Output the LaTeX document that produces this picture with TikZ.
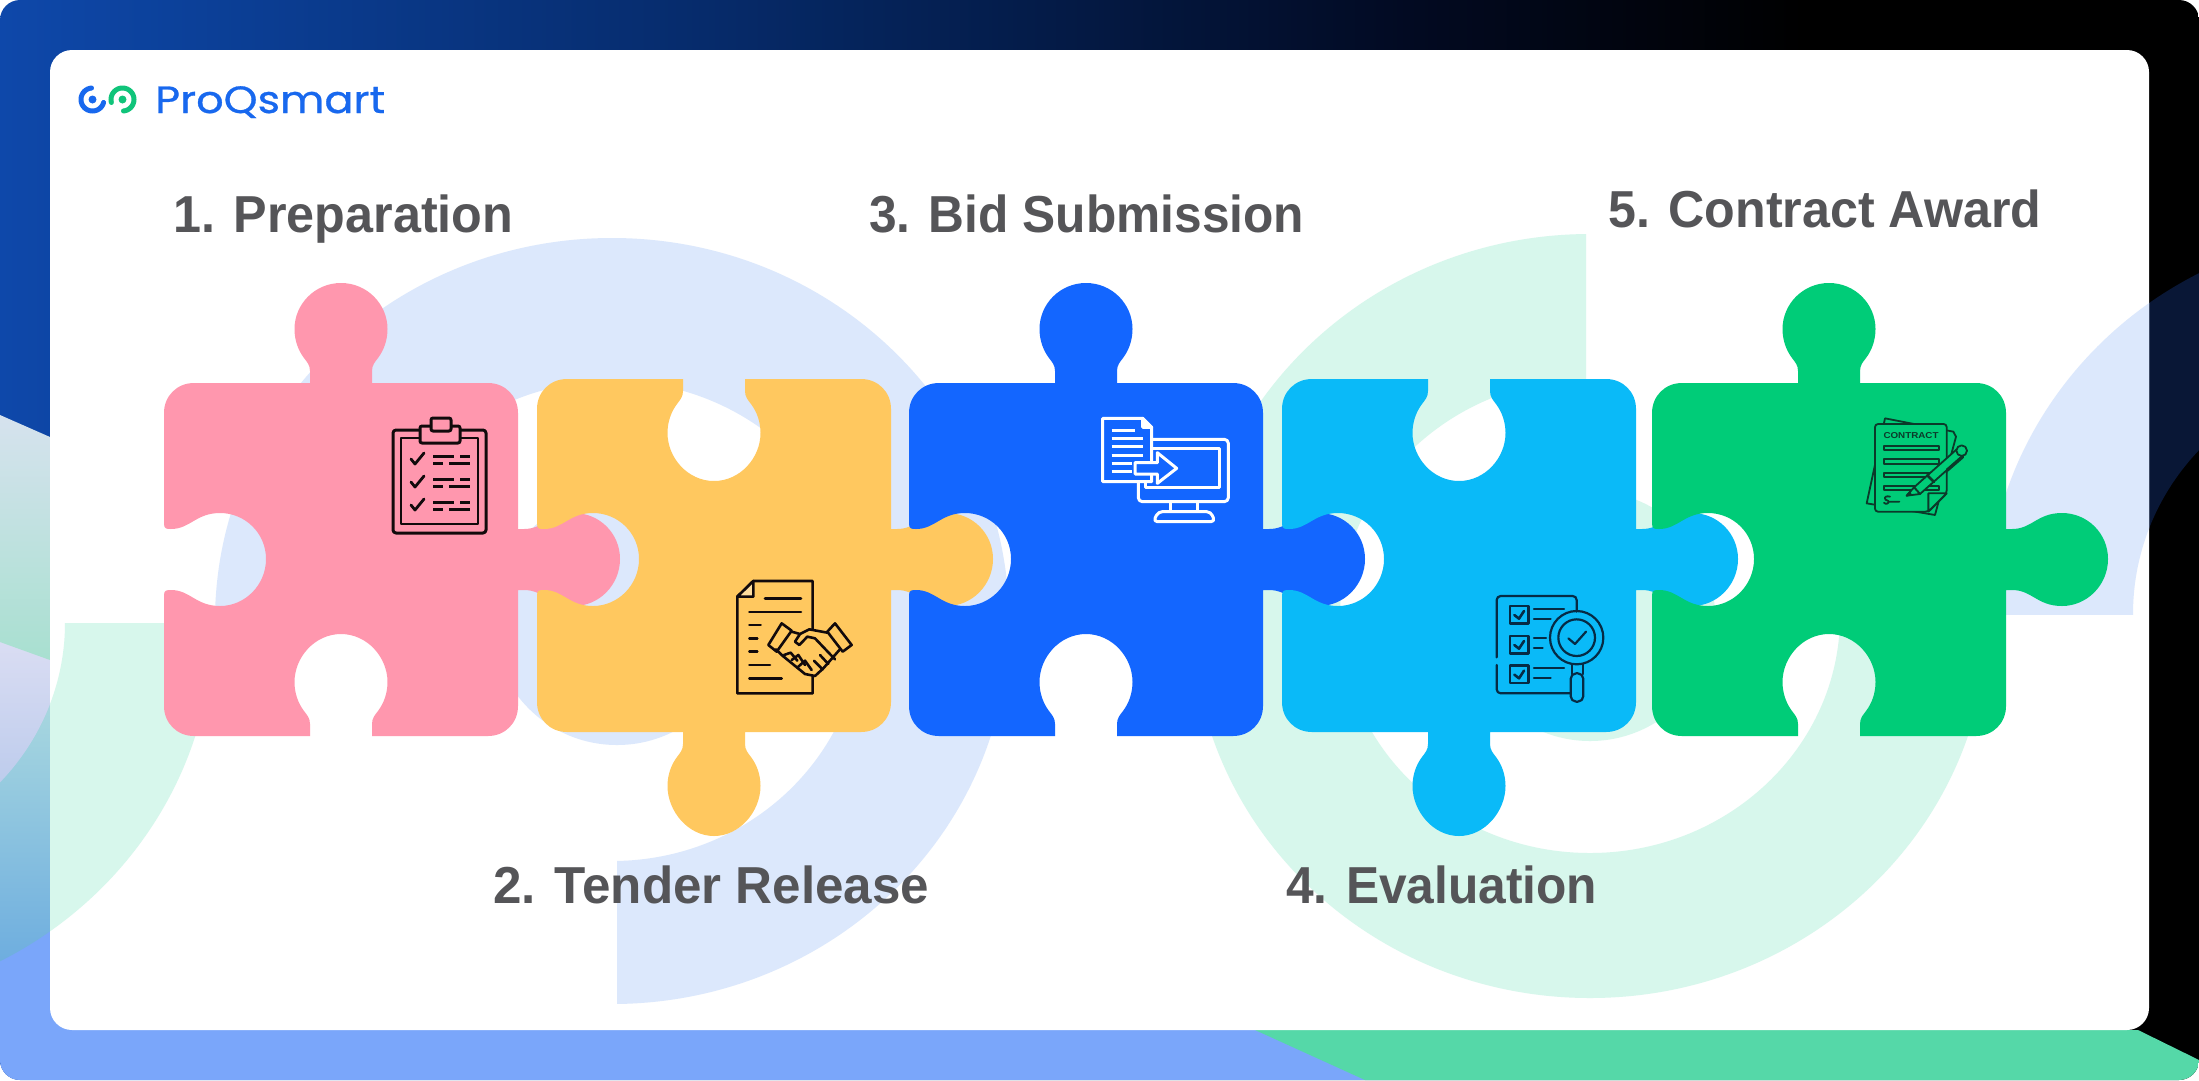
\documentclass[tikz,border=0pt]{standalone}
\usepackage{fontspec}
\usepackage{graphicx}
\setmainfont{Liberation Sans}
\newfontfamily\logofont[FakeBold=0.7]{Poppins}
\definecolor{cpink}{HTML}{FF97AE}
\definecolor{cyellow}{HTML}{FFC85F}
\definecolor{cblue}{HTML}{1366FF}
\definecolor{ccyan}{HTML}{0ABAF8}
\definecolor{cgreen}{HTML}{00CC78}
\definecolor{ringblue}{HTML}{DCE8FC}
\definecolor{ringgreen}{HTML}{D7F7EC}
\definecolor{txt}{HTML}{555558}
\definecolor{logoblue}{HTML}{1868EE}
\definecolor{logogreen}{HTML}{10C47A}
\definecolor{icodark}{HTML}{120A0C}
\definecolor{icocyan}{HTML}{062B45}
\definecolor{icogreen}{HTML}{0B3A2A}
\definecolor{fa}{HTML}{0E48AA}
\definecolor{fb}{HTML}{062B6B}
\definecolor{fc}{HTML}{020A22}
\definecolor{fd}{HTML}{000000}
\pgfdeclarehorizontalshading{framegrad}{100bp}{color(0bp)=(fa); color(25bp)=(fa); color(41bp)=(fb); color(57bp)=(fc); color(66bp)=(fd); color(100bp)=(fd)}
\tikzset{
 steplabel/.style={anchor=base west,inner sep=0pt,text=txt,font=\fontsize{52}{60}\selectfont\bfseries},
 ico/.style={line width=1pt,line join=round,line cap=round},
}
\newcommand{\pieceA}[3]{\fill[#3,shift={(#1,#2)}] (30,0) -- (146,0) -- (146,-12) .. controls (146,-18) and (143,-21) .. (140,-25) .. controls (134,-33) and (130.5,-43) .. (130.5,-54) .. controls (130.5,-79) and (151,-100) .. (177,-100) .. controls (203,-100) and (223.5,-79) .. (223.5,-54) .. controls (223.5,-43) and (220,-33) .. (214,-25) .. controls (211,-21) and (208,-18) .. (208,-12) -- (208,0) -- (324,0) .. controls (341,0) and (354,13) .. (354,30) -- (354,146) -- (360,146) .. controls (380,146) and (385,130) .. (410,130) .. controls (435,130) and (456,150) .. (456,176) .. controls (456,202) and (435,223) .. (410,223) .. controls (385,223) and (380,207) .. (360,207) -- (354,207) -- (354,323) .. controls (354,340) and (341,353) .. (324,353) -- (208,353) -- (208,341) .. controls (208,335) and (211,332) .. (214,328) .. controls (220,320) and (223.5,310) .. (223.5,299) .. controls (223.5,274) and (203,251) .. (177,251) .. controls (151,251) and (130.5,274) .. (130.5,299) .. controls (130.5,310) and (134,320) .. (140,328) .. controls (143,332) and (146,335) .. (146,341) -- (146,353) -- (30,353) .. controls (13,353) and (0,340) .. (0,323) -- (0,212) .. controls (0,207) and (3,207) .. (7,207) .. controls (26,207) and (32,223) .. (56,223) .. controls (81,223) and (102,202) .. (102,176) .. controls (102,150) and (81,130) .. (56,130) .. controls (32,130) and (26,146) .. (7,146) .. controls (3,146) and (0,146) .. (0,141) -- (0,30) .. controls (0,13) and (13,0) .. (30,0) -- cycle;}
\newcommand{\pieceB}[3]{\fill[#3,shift={(#1,#2)}] (30,0) -- (146,0) -- (146,12) .. controls (146,18) and (143,21) .. (140,25) .. controls (134,33) and (130.5,43) .. (130.5,54) .. controls (130.5,79) and (151,102) .. (177,102) .. controls (203,102) and (223.5,79) .. (223.5,54) .. controls (223.5,43) and (220,33) .. (214,25) .. controls (211,21) and (208,18) .. (208,12) -- (208,0) -- (324,0) .. controls (341,0) and (354,13) .. (354,30) -- (354,150) -- (360,150) .. controls (380,150) and (385,134) .. (410,134) .. controls (435,134) and (456,154) .. (456,180) .. controls (456,206) and (435,227) .. (410,227) .. controls (385,227) and (380,211) .. (360,211) -- (354,211) -- (354,323) .. controls (354,340) and (341,353) .. (324,353) -- (208,353) -- (208,365) .. controls (208,371) and (211,374) .. (214,378) .. controls (220,386) and (223.5,396) .. (223.5,407) .. controls (223.5,432) and (203,457) .. (177,457) .. controls (151,457) and (130.5,432) .. (130.5,407) .. controls (130.5,396) and (134,386) .. (140,378) .. controls (143,374) and (146,371) .. (146,365) -- (146,353) -- (30,353) .. controls (13,353) and (0,340) .. (0,323) -- (0,216) .. controls (0,211) and (3,211) .. (7,211) .. controls (26,211) and (32,227) .. (56,227) .. controls (81,227) and (102,206) .. (102,180) .. controls (102,154) and (81,134) .. (56,134) .. controls (32,134) and (26,150) .. (7,150) .. controls (3,150) and (0,150) .. (0,145) -- (0,30) .. controls (0,13) and (13,0) .. (30,0) -- cycle;}
\begin{document}
\begin{tikzpicture}[x=1pt,y=-1pt]
\useasboundingbox (0,0) rectangle (2199,1080);
% ---------- frame
\begin{scope}
\clip[rounded corners=20pt] (0,0) rectangle (2199,1080);
\shade[shading=framegrad] (0,0) rectangle (2199,1080);
\fill[color={rgb,255:red,122;green,166;blue,250}] (0,900) rectangle (1400,1080);
\fill[color={rgb,255:red,85;green,216;blue,168}] (1255,1030) -- (1365,1080) -- (2199,1080) -- (2199,1060) -- (2138,1030) -- cycle;
\begin{scope}
\clip (0,640) rectangle (60,1000);
\begin{scope}
\clip (-185,623) ellipse [x radius=398,y radius=382];
\shade[top color={rgb,255:red,169;green,216;blue,223},bottom color={rgb,255:red,109;green,173;blue,223}] (0,700) rectangle (60,965);
\end{scope}
\begin{scope}
\clip (-185,623) ellipse [x radius=250,y radius=237];
\shade[top color={rgb,255:red,218;green,221;blue,243},bottom color={rgb,255:red,188;green,203;blue,236}] (0,640) rectangle (60,790);
\end{scope}
\end{scope}
\shade[top color={rgb,255:red,214;green,226;blue,238},bottom color={rgb,255:red,168;green,224;blue,208}] (0,415) -- (50,437) -- (50,660) -- (0,642) -- cycle;
% right ring on the dark frame
\begin{scope}
\clip (2149,0) rectangle (2199,614);
\fill[even odd rule,color={rgb,255:red,9;green,23;blue,54}] (2378,614) ellipse [x radius=392,y radius=383] (2378,614) ellipse [x radius=245,y radius=240];
\end{scope}
\end{scope}
% ---------- card
\begin{scope}
\fill[white,rounded corners=22pt] (50,50) rectangle (2149,1030);
\clip[rounded corners=22pt] (50,50) rectangle (2149,1030);
% blue ring
\begin{scope}
\clip (617,615) -- (617,1100) -- (1100,1100) -- (1100,100) -- (100,100) -- (100,615) -- cycle;
\fill[even odd rule,ringblue] (612,621) ellipse [x radius=397,y radius=383] (612,621) ellipse [x radius=250,y radius=240];
\end{scope}
\fill[ringblue] (617,620) circle [radius=125];
% green ring
\begin{scope}
\clip (1586,616) -- (1586,100) -- (1100,100) -- (1100,1100) -- (2100,1100) -- (2100,616) -- cycle;
\fill[even odd rule,ringgreen] (1590,616) ellipse [x radius=398,y radius=382] (1590,616) ellipse [x radius=250,y radius=237];
\end{scope}
\fill[ringgreen] (1590,616) circle [radius=125];
% left green ring
\begin{scope}
\clip (0,623) rectangle (300,1100);
\fill[even odd rule,ringgreen] (-185,623) ellipse [x radius=398,y radius=382] (-185,623) ellipse [x radius=250,y radius=237];
\end{scope}
% right blue ring
\begin{scope}
\clip (1900,0) rectangle (2199,614);
\fill[even odd rule,ringblue] (2378,614) ellipse [x radius=392,y radius=383] (2378,614) ellipse [x radius=245,y radius=240];
\end{scope}
\end{scope}
% ---------- pieces
\pieceA{164}{383}{cpink}
\pieceB{537}{379}{cyellow}
\pieceA{909}{383}{cblue}
\pieceB{1282}{379}{ccyan}
\pieceA{1652}{383}{cgreen}
% ---------- clipboard icon
\begin{scope}[draw=icodark,ico,line width=3pt]
\draw[rounded corners=3pt] (393,430) rectangle (486,533);
\draw[line width=2.6pt] (401,438) rectangle (478,524);
\draw[fill=cpink,rounded corners=2pt] (420,426) rectangle (460,443);
\draw[fill=cpink,rounded corners=2pt] (431,418) rectangle (451,431);
\foreach \yy in {0,23,46}{
 \begin{scope}[yshift=-\yy pt]
 \draw[line width=2.8pt] (411,459) -- (415,464) -- (424,453);
 \draw[line width=3pt,line cap=butt] (433,456) -- (454,456) (460,456) -- (470,456) (433,463.5) -- (443,463.5) (449,463.5) -- (470,463.5);
 \end{scope}}
\end{scope}
% ---------- handshake icon
\begin{scope}[shift={(720,570)},x=0.3333pt,y=-0.3333pt,draw=icodark,line width=2.6pt,line join=round,line cap=round]
\draw (52,80) -- (100,33) -- (278,33) -- (278,370) -- (52,370) -- cycle;
\draw[fill=cyellow!60!white] (52,80) -- (100,80) -- (100,33) -- cycle;
\draw (135,85) -- (243,85) (88,126) -- (243,126) (88,165) -- (122,165) (88,205) -- (112,205) (88,245) -- (112,245) (88,285) -- (150,285) (88,325) -- (185,325);
\fill[cyellow] (200,235) -- (240,190) -- (265,178) -- (322,188) -- (358,240) -- (310,295) -- (285,320) -- (255,312) -- (185,262) -- cycle;
\draw[fill=cyellow] (185,160) -- (215,182) -- (170,245) -- (145,225) -- cycle;
\draw[fill=cyellow] (345,160) -- (395,225) -- (368,245) -- (322,185) -- cycle;
\draw (215,185) -- (240,192) -- (268,178) -- (322,188);
\draw (168,238) -- (185,255) -- (255,312) -- (285,318) -- (310,295) -- (358,240);
\draw (240,192) -- (225,215) -- (238,225) -- (262,200) -- (285,205) -- (345,268);
\draw (192,255) -- (212,248) -- (232,272);
\draw (215,270) -- (235,255) -- (255,285);
\draw (235,290) -- (255,272) -- (275,300);
\draw (300,255) -- (325,282);
\draw (282,272) -- (308,298);
\end{scope}
% ---------- monitor icon
\begin{scope}[shift={(1080,400)},x=0.3333pt,y=-0.3333pt,draw=white,line width=3pt,line join=round]
\draw[rounded corners=4pt] (190,118) -- (445,118) -- (445,305) -- (175,305) -- (175,245);
\draw (215,145) -- (418,145) -- (418,262) -- (195,262) -- (195,245);
\draw (270,305) -- (270,335) (352,305) -- (352,335);
\draw[rounded corners=4pt] (235,335) -- (392,335) -- (405,365) -- (220,365) -- cycle;
\draw[fill=cblue] (68,55) -- (188,55) -- (215,82) -- (215,245) -- (68,245) -- cycle;
\draw[fill=white] (188,55) -- (188,82) -- (215,82) -- cycle;
\foreach \yy/\xx in {90/165,115/190,140/190,165/190,190/155,215/155}{\draw (95,\yy) -- (\xx,\yy);}
\draw[fill=cblue] (165,188) -- (232,188) -- (232,158) -- (290,205) -- (232,250) -- (232,222) -- (165,222) -- cycle;
\end{scope}
% ---------- checklist and magnifier icon
\begin{scope}[shift={(1460,570)},x=0.3333pt,y=-0.3333pt,draw=icocyan,line width=2.2pt,line join=round,line cap=round]
\draw[rounded corners=4pt] (110,262) -- (110,78) -- (350,78) -- (350,125);
\draw[rounded corners=4pt] (110,285) -- (110,370) -- (330,370);
\foreach \yy in {108,198,287}{
 \draw[line width=2.6pt] (150,\yy) rectangle (205,\yy+52);
 \draw[line width=2.6pt] (163,\yy+27) -- (177,\yy+38) -- (192,\yy+15);
 }
\draw (222,118) -- (312,118) (222,148) -- (272,148) (222,205) -- (258,205) (222,235) -- (248,235) (222,295) -- (312,295) (222,325) -- (272,325);
\draw (350,203) circle [radius=80];
\draw (350,203) circle [radius=55];
\draw (325,205) -- (345,222) -- (378,185);
\draw (335,282) -- (335,312) (368,282) -- (368,312);
\draw[rounded corners=5.5pt] (332,310) rectangle (370,395);
\end{scope}
% ---------- contract icon
\begin{scope}[shift={(1840,400)},x=0.3333pt,y=-0.3333pt,draw=icogreen,line width=1.8pt,line join=round,line cap=round]
\draw[fill=cgreen] (135,55) -- (340,95) -- (348,110) -- (285,345) -- (80,310) -- cycle;
\draw[fill=cgreen,rounded corners=3pt] (105,72) -- (320,72) -- (320,280) -- (265,335) -- (105,335) -- cycle;
\draw[fill=cgreen] (265,335) -- (265,280) -- (320,280) -- cycle;
\node[inner sep=0pt,text=icogreen] (contractword) at (213,108) {\resizebox{55pt}{6pt}{\bfseries CONTRACT}};
\foreach \yy in {138,178,218,258}{\draw (132,\yy) rectangle (298,\yy+13);}
\draw (150,290) .. controls (130,285) and (130,300) .. (145,303) .. controls (150,310) and (135,315) .. (132,308) (150,305) -- (178,305);
\draw[fill=cgreen] (222,262) -- (350,148) -- (368,168) -- (240,282) -- cycle;
\draw[fill=cgreen] (200,287) -- (222,262) -- (240,282) -- cycle;
\draw[fill=icogreen] (200,287) -- (209,277) -- (212,283) -- cycle;
\draw[fill=cgreen] (365,152) circle [radius=16];
\draw[line width=2.6pt] (262,226) -- (282,246);
\draw[line width=3.4pt] (322,210) -- (368,170);
\end{scope}
% ---------- logo
\draw[logoblue,line width=5pt,line cap=round] plot[domain=-95:-345,samples=40] ({92.5+11.5*cos(\x)},{99.5+11.5*sin(\x)});
\fill[logoblue] (92.5,99.5) circle [radius=4];
\draw[logogreen,line width=5pt,line cap=round] plot[domain=165:445,samples=40] ({122.5+11.5*cos(\x)},{99.5+11.5*sin(\x)});
\fill[logogreen] (122.5,99.5) circle [radius=4];
\node[anchor=base west,inner sep=0pt,text=logoblue] (brand) at (155,113) {\resizebox{230pt}{\height}{\logofont\fontsize{38}{44}\selectfont ProQsmart}};
% ---------- labels
\node[steplabel] (lab1) at (173,232) {\resizebox{340pt}{\height}{1. Preparation}};
\node[steplabel] (lab2) at (493,903) {\resizebox{436pt}{\height}{2. Tender Release}};
\node[steplabel] (lab3) at (869,232) {\resizebox{435pt}{\height}{3. Bid Submission}};
\node[steplabel] (lab4) at (1286,903) {\resizebox{311pt}{\height}{4. Evaluation}};
\node[steplabel] (lab5) at (1608,227) {\resizebox{433pt}{\height}{5. Contract Award}};
\end{tikzpicture}
\end{document}
